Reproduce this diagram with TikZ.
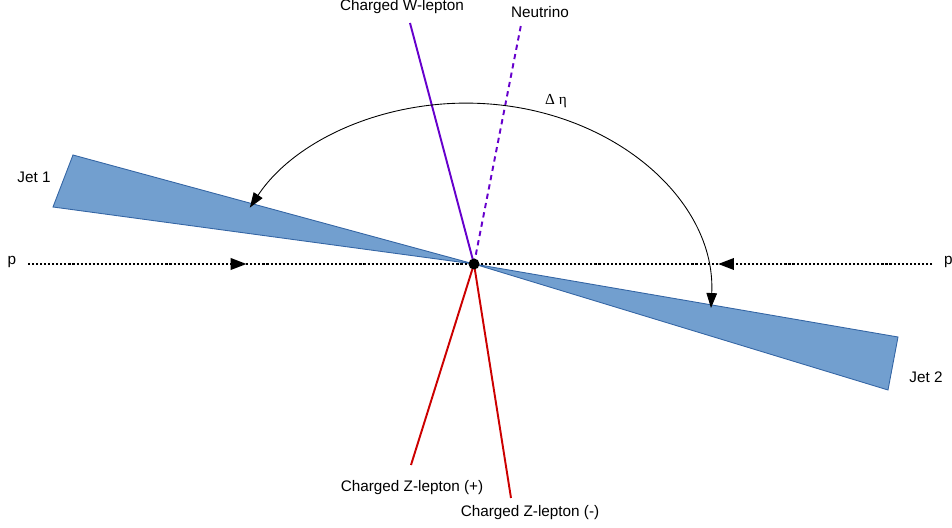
\documentclass[tikz,border=0pt]{standalone}
\usepackage{fontspec}
\setmainfont{Liberation Sans}
\newfontfamily\greekfont{Liberation Serif}
\usetikzlibrary{arrows.meta,decorations.markings}
\definecolor{jetblue}{RGB}{114,159,207}
\definecolor{jetedge}{RGB}{52,101,164}
\definecolor{wviolet}{RGB}{102,0,204}
\definecolor{zred}{RGB}{204,0,0}

\begin{document}
\begin{tikzpicture}[font=\fontsize{8.7}{10}\selectfont,
  jet/.style={fill=jetblue,draw=jetedge,line width=0.5pt},
  track/.style={line width=1.1pt},
  beamline/.style={line width=1.25pt,dash pattern=on 1.2pt off 1.1pt,
    decoration={markings,mark=at position #1 with {\arrow{Triangle[length=9pt,width=6.5pt]}}},
    postaction={decorate}},
  gap/.style={line width=0.5pt,{Triangle[length=8.5pt,width=6pt]}-{Triangle[length=8.5pt,width=6pt]}}]
\useasboundingbox (0,0) rectangle (19.04,10.56);
% points
\coordinate (vtx) at (9.48,5.28);
\coordinate (jet1a) at (1.46,7.46);
\coordinate (jet1b) at (1.06,6.42);
\coordinate (jet2a) at (17.96,3.82);
\coordinate (jet2b) at (17.76,2.76);
\coordinate (wend) at (8.2,10.1);
\coordinate (nuend) at (10.42,10.06);
\coordinate (zpend) at (8.22,1.26);
\coordinate (zmend) at (10.22,0.6);
\coordinate (beamL) at (0.56,5.28);
\coordinate (beamR) at (18.64,5.28);
\coordinate (gapR) at (14.22,4.40);

% jets
\draw[jet] (vtx) -- (jet1a) -- (jet1b) -- cycle;
\draw[jet] (vtx) -- (jet2a) -- (jet2b) -- cycle;

% beams
\draw[beamline=0.49] (beamL) -- (vtx);
\draw[beamline=0.467] (beamR) -- (vtx);

% leptons
\draw[track,wviolet] (vtx) -- (wend);
\draw[track,wviolet,dash pattern=on 3pt off 2.4pt] (vtx) -- (nuend);
\draw[track,zred] (vtx) -- (zpend);
\draw[track,zred] (vtx) -- (zmend);

% delta eta
\draw[gap] (gapR) arc[start angle=-2.3,end angle=152,x radius=4.9cm,y radius=3.94cm];
\node (deta) at (11.12,8.54) {\greekfont Δ η};

\fill (vtx) circle (0.11);

% labels
\node (pL) at (0.24,5.32) {p};
\node[anchor=west,inner sep=1pt] (pR) at (18.84,5.32) {p};
\node (jet1) at (0.68,7.02) {Jet 1};
\node (jet2) at (18.52,3.02) {Jet 2};
\node (wlab) at (8.04,10.42) {Charged W-lepton};
\node (nulab) at (10.8,10.32) {Neutrino};
\node (zplab) at (8.24,0.8) {Charged Z-lepton (+)};
\node (zmlab) at (10.6,0.3) {Charged Z-lepton (-)};
\end{tikzpicture}
\end{document}
